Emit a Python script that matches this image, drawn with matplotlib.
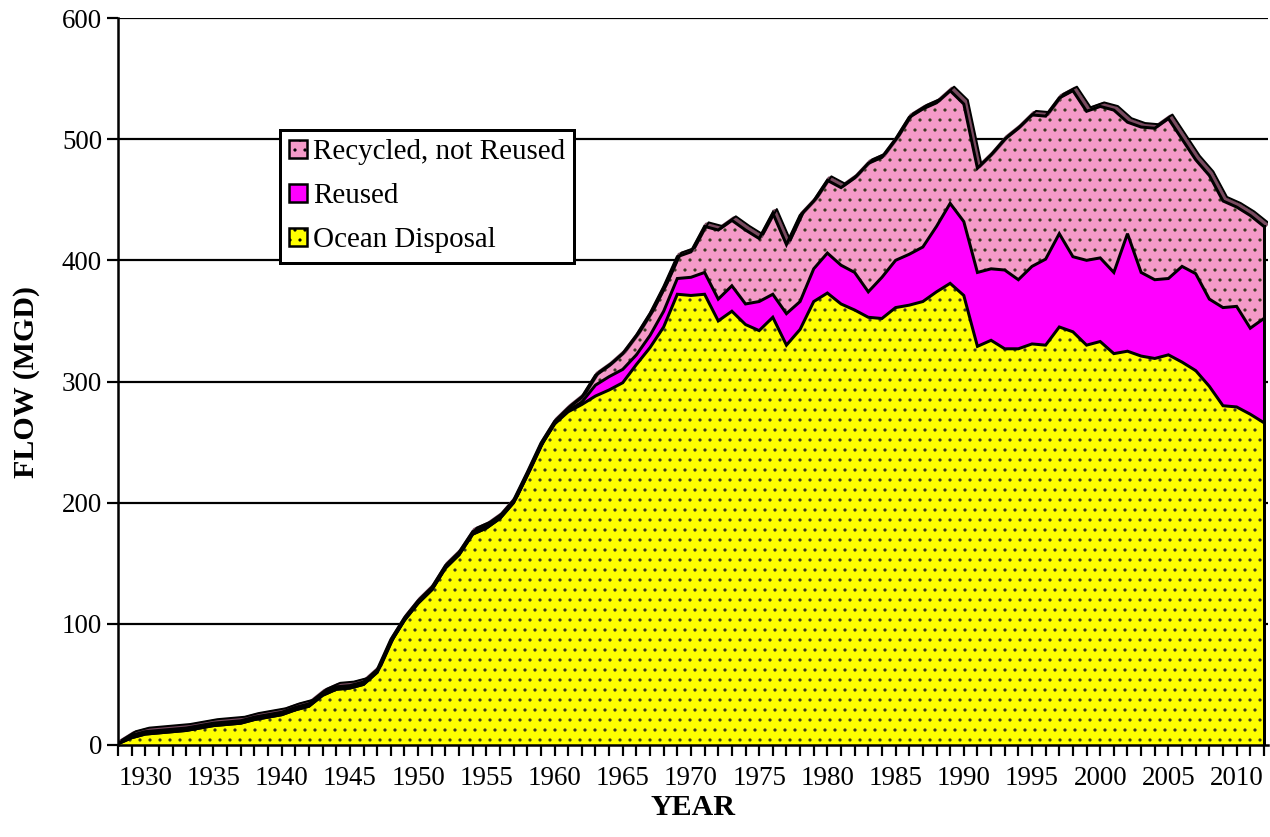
import matplotlib
matplotlib.use("Agg")
import matplotlib.pyplot as plt
import numpy as np
from matplotlib.patches import Patch
import matplotlib.transforms as mtransforms

years = list(range(1928, 2013))

ocean = [1, 6, 9, 10, 11, 12, 14, 16, 17, 18,
         21, 23, 25, 29, 32, 41, 46, 47, 50, 60,
         85, 103, 117, 128, 146, 157, 174, 179, 187, 200,
         223, 247, 265, 275, 281, 288, 293, 299, 314, 328,
         345, 372, 371, 372, 350, 358, 347, 342, 353, 330,
         343, 366, 373, 364, 359, 353, 352, 361, 363, 366,
         374, 381, 371, 329, 334, 327, 327, 331, 330, 345,
         341, 330, 333, 323, 325, 321, 319, 322, 316, 309,
         296, 280, 279, 273, 266]

reused_top = [1, 6, 9, 10, 11, 12, 14, 16, 17, 18,
              21, 23, 25, 29, 32, 41, 46, 47, 50, 60,
              85, 103, 117, 128, 146, 157, 174, 179, 187, 200,
              223, 247, 265, 276, 283, 297, 304, 310, 322, 338,
              358, 385, 386, 390, 368, 379, 364, 366, 372, 356,
              366, 393, 406, 396, 390, 374, 386, 400, 405, 411,
              428, 447, 432, 390, 393, 392, 384, 395, 401, 422,
              403, 400, 402, 390, 422, 390, 384, 385, 395, 389,
              368, 361, 362, 344, 352]

total = [1, 8, 11, 12, 13, 14, 16, 18, 19, 20,
         23, 25, 27, 31, 34, 43, 48, 49, 52, 62,
         87, 105, 119, 130, 148, 159, 176, 181, 189, 202,
         225, 249, 267, 278, 287, 305, 313, 323, 338, 356,
         378, 403, 407, 428, 425, 433, 425, 418, 439, 413,
         437, 449, 466, 460, 468, 480, 485, 500, 518, 525,
         530, 540, 529, 476, 487, 500, 509, 520, 519, 534,
         540, 523, 527, 524, 514, 510, 509, 517, 500, 483,
         470, 449, 444, 437, 428]

reused = [r - o for r, o in zip(reused_top, ocean)]
recycled = [t - r for t, r in zip(total, reused_top)]

series_names = ["Ocean Disposal", "Reused", "Recycled, not Reused"]
series_colors = ["#FFFF00", "#FF00FF", "#F49AC8"]
series_hatch = ["..", None, ".."]

DPI = 120
def px(v):
    return v * 72.0 / DPI

plt.rcParams['font.family'] = ['Liberation Serif', 'DejaVu Serif']
plt.rcParams['hatch.linewidth'] = px(1.2)

fig = plt.figure(figsize=(1270 / DPI, 837 / DPI), dpi=DPI)
ax = fig.add_axes([118 / 1270, (837 - 745) / 837, (1268 - 118) / 1270, (745 - 18) / 837])

x = np.array(years)
layers = [np.array(ocean), np.array(reused), np.array(recycled)]
base = np.zeros(len(x))
tops = []
for vals, name, col, h in zip(layers, series_names, series_colors, series_hatch):
    top = base + vals
    ax.fill_between(x, base, top, facecolor=col, edgecolor="#3a3a20" if h else col,
                    hatch=h, linewidth=0, zorder=2)
    tops.append(top)
    base = top

# 3D ribbon on the top edge
off_far = mtransforms.offset_copy(ax.transData, fig=fig, x=px(4), y=px(4), units='points')
off_mid = mtransforms.offset_copy(ax.transData, fig=fig, x=px(2), y=px(2), units='points')
ax.plot(x, tops[-1], color="#7a4a60", lw=px(4), transform=off_mid, zorder=3)
ax.plot(x, tops[-1], color="black", lw=px(2), transform=off_far, zorder=3)
for t in tops:
    ax.plot(x, t, color="black", lw=px(3), zorder=4, solid_joinstyle='miter')
ax.plot([x[-1], x[-1]], [0, tops[-1][-1]], color="black", lw=px(3), zorder=4)

ax.set_xlim(1928, 2012.3)
ax.set_ylim(0, 600)

for v in range(100, 601, 100):
    ax.axhline(v, color="black", lw=px(2.2), zorder=1)

ax.spines['top'].set_visible(False)
ax.spines['right'].set_visible(False)
for s in ('left', 'bottom'):
    ax.spines[s].set_linewidth(px(2.5))
    ax.spines[s].set_zorder(5)

ax.set_yticks(range(0, 601, 100))
ax.set_xticks(range(1930, 2011, 5))
ax.set_xticks(years, minor=True)
ax.tick_params(axis='both', which='both', direction='out', length=px(11), width=px(2.2),
               labelsize=px(27), pad=px(5), color='black')
ax.tick_params(axis='x', which='major', pad=px(10))

ax.set_xlabel("YEAR", fontsize=px(30), fontweight='bold', labelpad=px(3))
ax.set_ylabel("FLOW (MGD)", fontsize=px(30), fontweight='bold', labelpad=px(22))

handles = [Patch(facecolor=series_colors[i], edgecolor="black", hatch=series_hatch[i], lw=px(2.5))
           for i in (2, 1, 0)]
leg = ax.legend(handles, [series_names[i] for i in (2, 1, 0)],
                loc='upper left', bbox_to_anchor=(280 / 1270, (837 - 130) / 837),
                bbox_transform=fig.transFigure, fontsize=px(29), frameon=True,
                fancybox=False, framealpha=1, edgecolor='black', borderaxespad=0,
                handlelength=0.62, handleheight=0.62, handletextpad=0.2,
                borderpad=0.32, labelspacing=0.62)
leg.get_frame().set_linewidth(px(3))
leg.set_zorder(10)

fig.savefig("out.png", dpi=DPI)
